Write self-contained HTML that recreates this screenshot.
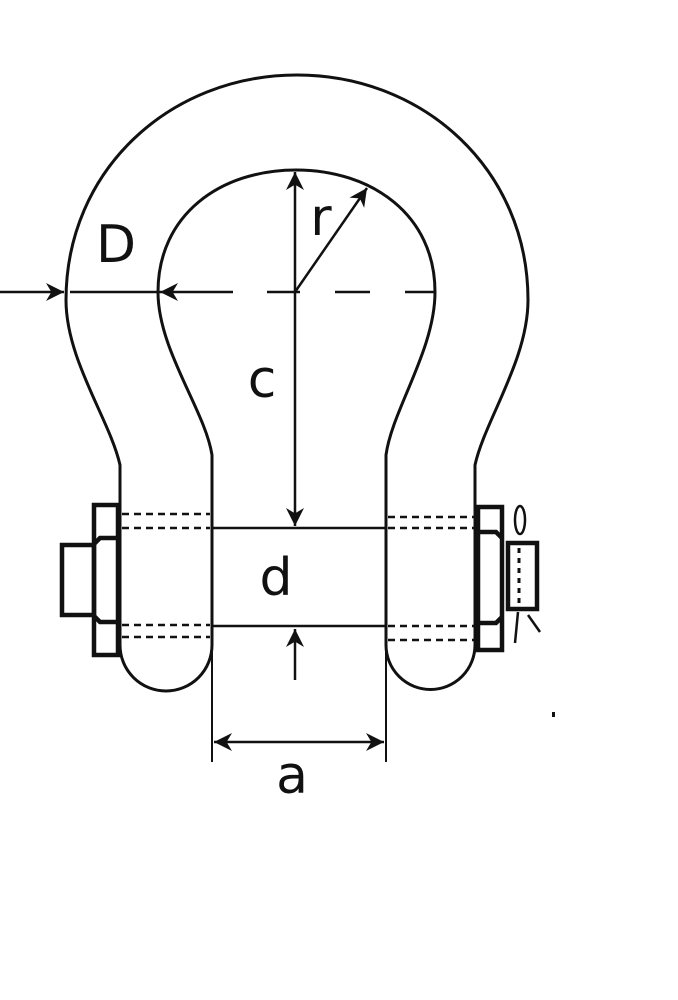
<!DOCTYPE html>
<html><head><style>html,body{margin:0;padding:0;background:#fff}svg{display:block}</style></head>
<body>
<svg width="678" height="1000" viewBox="0 0 678 1000" xmlns="http://www.w3.org/2000/svg">
<defs>
<marker id="ah" viewBox="0 0 10 10" refX="10" refY="5" markerWidth="18" markerHeight="18" markerUnits="userSpaceOnUse" orient="auto">
<path d="M0,0 L10,5 L0,10 L3,5 z" fill="#111"/></marker>
</defs>
<g fill="none" stroke="#111" stroke-width="3">
<path d="M120,645 L120,465 C110,420 66,360 66,300 C66,170 170,75 297,75 C424,75 528,170 528,300 C528,360 485,420 475,465 L475,645"/>
<path d="M212,645 L212,455 C205,410 158,350 158,292 C158,215 220,170 296,170 C372,170 435,215 435,292 C435,350 392,410 386,455 L386,645"/>
<path d="M120,645 A46,46 0 0 0 212,645"/>
<path d="M386,645 A44.5,44.5 0 0 0 475,645"/>
<line x1="212" y1="528" x2="386" y2="528" stroke-width="2.5"/>
<line x1="212" y1="626" x2="386" y2="626" stroke-width="2.5"/>
<line x1="212" y1="455" x2="212" y2="762" stroke-width="2"/>
<line x1="386" y1="455" x2="386" y2="762" stroke-width="2"/>
<g stroke-dasharray="7,5" stroke-width="2.5">
<line x1="122" y1="514" x2="210" y2="514"/><line x1="122" y1="528" x2="210" y2="528"/>
<line x1="122" y1="625" x2="210" y2="625"/><line x1="122" y1="637" x2="210" y2="637"/>
<line x1="388" y1="517" x2="476" y2="517"/><line x1="388" y1="528" x2="476" y2="528"/>
<line x1="388" y1="626" x2="476" y2="626"/><line x1="388" y1="640" x2="476" y2="640"/>
</g>
<g stroke-width="4.5">
<rect x="94" y="505" width="24" height="150"/>
<path d="M118,538 L100,538 L94,544 M118,622 L100,622 L94,616"/>
<rect x="62" y="545" width="32" height="70"/>
</g>
<g stroke-width="4.5">
<rect x="478" y="507" width="24" height="143"/>
<path d="M478,532 L496,532 L502,538 M478,623 L496,623 L502,617"/>
<rect x="508" y="543" width="29" height="66"/>
</g>
<line x1="519" y1="548" x2="519" y2="606" stroke-dasharray="5,5" stroke-width="3"/>
<ellipse cx="520" cy="520" rx="5" ry="14" stroke-width="2.5"/>
<line x1="518" y1="612" x2="515" y2="643" stroke-width="2.5"/>
<line x1="528" y1="615" x2="540" y2="632" stroke-width="2.5"/>
<line x1="295" y1="292" x2="295" y2="172" stroke-width="2.5" marker-end="url(#ah)"/>
<line x1="295" y1="292" x2="295" y2="526" stroke-width="2.5" marker-end="url(#ah)"/>
<line x1="295" y1="680" x2="295" y2="629" stroke-width="2.5" marker-end="url(#ah)"/>
<line x1="295" y1="292" x2="367" y2="188" stroke-width="2.5" marker-end="url(#ah)"/>
<line x1="0" y1="292" x2="64" y2="292" stroke-width="2.5" marker-end="url(#ah)"/>
<line x1="233" y1="292" x2="160" y2="292" stroke-width="2.5" marker-end="url(#ah)"/>
<line x1="70" y1="292" x2="160" y2="292" stroke-width="2.5"/>
<g stroke-width="2.5">
<line x1="267" y1="292" x2="300" y2="292"/><line x1="335" y1="292" x2="370" y2="292"/><line x1="405" y1="292" x2="435" y2="292"/>
</g>
<line x1="300" y1="742" x2="214" y2="742" stroke-width="2.5" marker-end="url(#ah)"/>
<line x1="300" y1="742" x2="384" y2="742" stroke-width="2.5" marker-end="url(#ah)"/>
</g>
<rect x="552" y="712" width="3" height="5" fill="#111"/>
<g font-family="DejaVu Sans, Liberation Sans, sans-serif" font-size="52" fill="#111" text-anchor="middle">
<text x="116" y="262">D</text>
<text x="321" y="235">r</text>
<text x="262" y="397">c</text>
<text x="276" y="595">d</text>
<text x="292" y="793">a</text>
</g>
</svg>
</body></html>
